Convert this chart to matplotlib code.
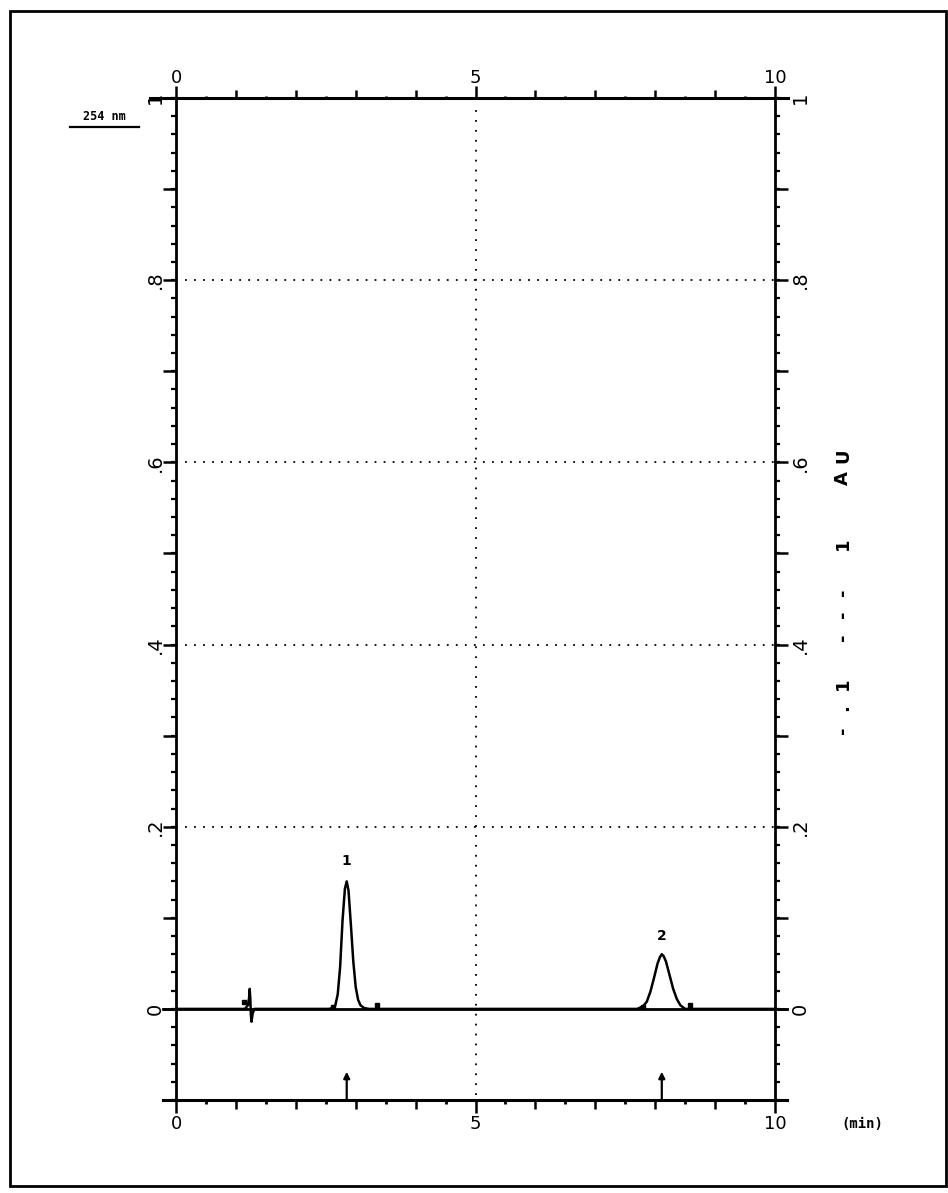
import matplotlib
matplotlib.use("Agg")
import matplotlib.pyplot as plt
from matplotlib.patches import Rectangle
from matplotlib.lines import Line2D

# ---- data ----
trace_time = [0.0, 1.15, 1.20, 1.22, 1.23, 1.24, 1.25, 1.26, 1.28, 1.31, 2.55,
              2.62, 2.66, 2.70, 2.74, 2.78, 2.82, 2.85, 2.88, 2.92, 2.96, 3.00,
              3.04, 3.08, 3.14, 3.22, 7.70, 7.80, 7.86, 7.92, 7.98, 8.04, 8.08,
              8.11, 8.14, 8.18, 8.24, 8.30, 8.36, 8.42, 8.50, 10.0]
trace_abs = [0.0, 0.0, 0.004, 0.012, 0.022, 0.012, -0.006, -0.014, -0.005, 0.0, 0.0,
             0.001, 0.004, 0.016, 0.046, 0.097, 0.132, 0.140, 0.130, 0.092, 0.052, 0.024,
             0.010, 0.004, 0.001, 0.0, 0.0, 0.003, 0.008, 0.019, 0.034, 0.050, 0.057,
             0.060, 0.058, 0.052, 0.037, 0.022, 0.011, 0.004, 0.0, 0.0]
peak_labels = ["1", "2"]
peak_times = [2.85, 8.11]
peak_heights = [0.140, 0.060]
peak_label_y = [0.162, 0.080]
mark_times = [1.13, 2.62, 3.36, 7.80, 8.58]
mark_abs = [0.008, 0.002, 0.004, 0.002, 0.004]
grid_levels = [0.2, 0.4, 0.6, 0.8]
x_labels = ["0", "5", "10"]
x_label_pos = [0, 5, 10]
y_label_pos = [0.0, 0.2, 0.4, 0.6, 0.8, 1.0]
y_labels = ["0", ".2", ".4", ".6", ".8", "1"]
scale_chars = ["-", ".", "1", "-", "-", "-", "1", "A", "U"]
scale_char_y = [730, 708, 684, 637, 614, 592, 544, 478, 456]   # pixel rows of the rotated scale note

W, H = 948, 1193
fig = plt.figure(figsize=(W / 100, H / 100), dpi=100)
L, R, T, B = 176, 775, 98, 1100
ax = fig.add_axes([L / W, 1 - B / H, (R - L) / W, (B - T) / H])
ax.set_xlim(0, 10)
ax.set_ylim(-0.1, 1.0)
ax.set_facecolor("white")
for s in ["top", "bottom"]:
    ax.spines[s].set_visible(False)
for s in ["left", "right"]:
    ax.spines[s].set_linewidth(2.0)
ax.set_xticks([])
ax.set_yticks([])

xpp = 10 / (R - L)     # minutes per pixel
ypp = 1.1 / (B - T)    # AU per pixel
yt_major = [round(-0.1 + 0.1 * i, 2) for i in range(12)]
yt_minor = [round(-0.1 + 0.02 * i, 2) for i in range(56)]
for yv in yt_minor:
    ax.plot([0, -5 * xpp], [yv, yv], color="black", lw=1.6, clip_on=False, solid_capstyle="butt")
    ax.plot([10, 10 + 5 * xpp], [yv, yv], color="black", lw=1.6, clip_on=False, solid_capstyle="butt")
for yv in yt_major:
    ax.plot([0, -13 * xpp], [yv, yv], color="black", lw=1.8, clip_on=False, solid_capstyle="butt")
    ax.plot([10, 10 + 13 * xpp], [yv, yv], color="black", lw=1.8, clip_on=False, solid_capstyle="butt")

# x ticks: top (pointing up) and bottom (pointing down)
for i in range(21):
    xv = i * 0.5
    if i % 2 == 0:
        ln = 12 if i % 10 == 0 else 8
        lw = 1.8
    else:
        ln = 2.5
        lw = 2.0
    ax.plot([xv, xv], [1.0, 1.0 + ln * ypp], color="black", lw=lw, clip_on=False, solid_capstyle="butt")
    ax.plot([xv, xv], [-0.1, -0.1 - (ln + 1) * ypp], color="black", lw=lw, clip_on=False, solid_capstyle="butt")

# extended frame lines
ax.plot([-26 * xpp, 10 + 13 * xpp], [1.0, 1.0], color="black", lw=2.2, clip_on=False)
ax.plot([-13 * xpp, 10 + 12 * xpp], [-0.1, -0.1], color="black", lw=2.2, clip_on=False)

# dotted grid
for g in grid_levels:
    ax.plot([0, 10], [g, g], color="black", lw=1.3, ls=(0, (1, 4)))
ax.plot([5, 5], [-0.095, 0.995], color="black", lw=1.3, ls=(0, (1, 4.5)))

# baseline extension + trace
ax.plot([-13 * xpp, 10 + 12 * xpp], [0, 0], color="black", lw=2.0, clip_on=False)
ax.plot(trace_time, trace_abs, color="black", lw=1.8)
ax.plot(mark_times, mark_abs, ls="none", marker="s", ms=2.2, color="black")

# peak labels
for lab, t, yl in zip(peak_labels, peak_times, peak_label_y):
    ax.text(t, yl, lab, ha="center", va="center", fontsize=10, fontweight="bold",
            family="DejaVu Sans")

# injection arrows
for t in peak_times:
    ax.annotate("", xy=(t, -0.069), xytext=(t, -0.1),
                arrowprops=dict(arrowstyle="-|>", color="black", lw=1.6,
                                mutation_scale=9, shrinkA=0, shrinkB=0))

# tick labels
for lab, xv in zip(x_labels, x_label_pos):
    ax.text(xv, 1.0 + 20 * ypp, lab, ha="center", va="center", fontsize=13, family="DejaVu Sans")
    ax.text(xv, -0.1 - 24 * ypp, lab, ha="center", va="center", fontsize=13, family="DejaVu Sans")
for lab, yv in zip(y_labels, y_label_pos):
    ax.text(-21 * xpp, yv, lab, ha="center", va="center", rotation=90, fontsize=14,
            family="DejaVu Sans")
    ax.text(10 + 25 * xpp, yv, lab, ha="center", va="center", rotation=90, fontsize=14,
            family="DejaVu Sans")

# rotated scale note on the right
for ch, yp in zip(scale_chars, scale_char_y):
    fig.text(843 / W, 1 - yp / H, ch, rotation=90, ha="center", va="center",
             fontsize=13, family="DejaVu Sans", fontweight="bold")

fig.text(862 / W, 1 - 1124 / H, "(min)", ha="center", va="center", fontsize=10,
         family="DejaVu Sans Mono", fontweight="bold")
fig.text(104 / W, 1 - 117 / H, "254 nm", ha="center", va="center", fontsize=8.5,
         family="DejaVu Sans Mono", fontweight="bold")
fig.add_artist(Line2D([70 / W, 139 / W], [1 - 127 / H, 1 - 127 / H], color="black", lw=1.6))

# outer border
fig.add_artist(Rectangle((10 / W, 1 - 1186 / H), 936 / W, 1175 / H, fill=False,
                         edgecolor="black", lw=2.0, transform=fig.transFigure))

fig.savefig("out.png", dpi=100, facecolor="white")
